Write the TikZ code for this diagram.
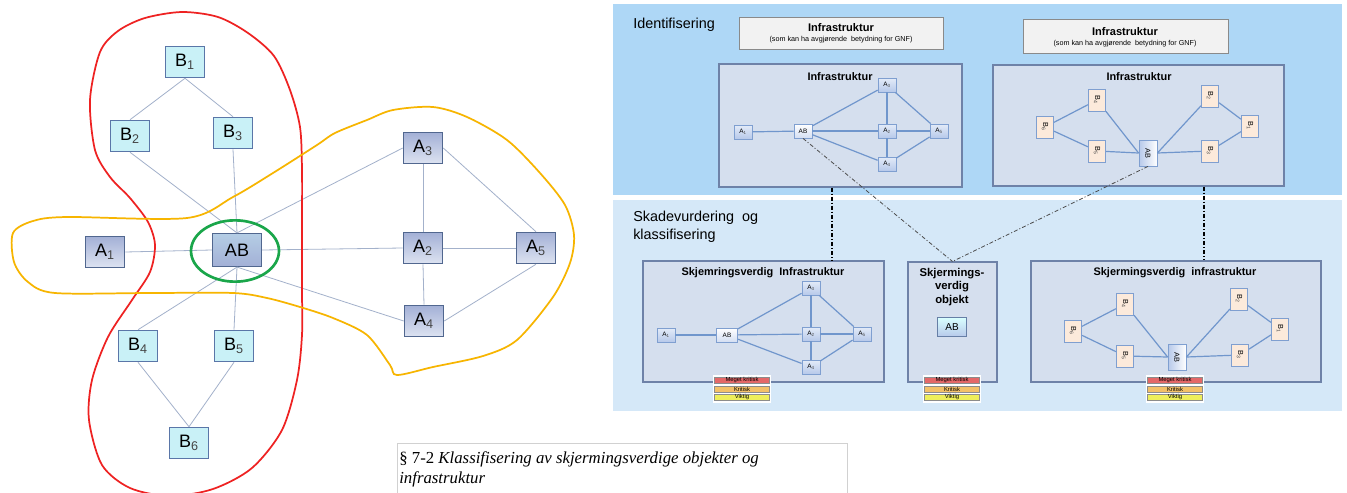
\documentclass[tikz,border=0pt]{standalone}
\usepackage{fontspec}
\usepackage{graphicx}
\setmainfont{Liberation Sans}
\newfontfamily\capserif{Liberation Serif}
\usetikzlibrary{shapes.geometric,fit}
\definecolor{bfill}{HTML}{C9F1F7}
\definecolor{bbord}{HTML}{5A76A8}
\definecolor{abord}{HTML}{51678F}
\definecolor{atop}{HTML}{A3B0D6}
\definecolor{abot}{HTML}{DDE3F1}
\definecolor{ledgec}{HTML}{A3B1CB}
\definecolor{redc}{HTML}{EE2222}
\definecolor{yelc}{HTML}{F7B500}
\definecolor{grnc}{HTML}{1AA64A}
\definecolor{topbg}{HTML}{AED7F6}
\definecolor{botbg}{HTML}{D5E8F8}
\definecolor{panelf}{HTML}{D5DFEE}
\definecolor{panelb}{HTML}{6E82A8}
\definecolor{hdrf}{HTML}{F2F2F2}
\definecolor{hdrb}{HTML}{8A8A8A}
\definecolor{sbord}{HTML}{7F9FD0}
\definecolor{stop}{HTML}{E3EBF8}
\definecolor{sbot}{HTML}{B7C9EA}
\definecolor{peach}{HTML}{FCEADB}
\definecolor{redge}{HTML}{7096CC}
\definecolor{legr}{HTML}{E46868}
\definecolor{lego}{HTML}{F3C068}
\definecolor{legy}{HTML}{EEEE5A}
\definecolor{subc}{HTML}{444444}
\newcommand{\sub}[1]{\textsubscript{\color{subc}#1}}
\newcommand{\mylegend}[3]{%
  \node[legbg] (#1bg) at (#2,389) {};
  \node[legbar, fill=legr] (#1r) at (#2,380) {Meget kritisk};
  \node[legbar, fill=lego] (#1o) at (#2,389) {Kritisk};
  \node[legbar, fill=legy] (#1y) at (#2,397) {Viktig};
}
\begin{document}
\begin{tikzpicture}[x=0.75pt,y=-0.75pt,
  lbox/.style={draw=bbord, fill=bfill, line width=0.9pt, minimum width=29.5pt, minimum height=23.5pt, inner sep=0pt, font=\fontsize{13.5}{14}\selectfont},
  abox/.style={draw=abord, line width=0.9pt, top color=atop, bottom color=abot, minimum width=29.5pt, minimum height=23.5pt, inner sep=0pt, font=\fontsize{13.5}{14}\selectfont},
  ledge/.style={draw=ledgec, line width=0.6pt},
  panel/.style={draw=panelb, fill=panelf, line width=0.8pt, inner sep=0pt},
  hdr/.style={draw=hdrb, fill=hdrf, line width=0.6pt, inner sep=0pt},
  ptitle/.style={font=\fontsize{8.2}{9}\selectfont\bfseries, inner sep=0pt},
  sbox/.style={draw=sbord, line width=0.6pt, top color=stop, bottom color=sbot, minimum width=13.5pt, minimum height=10.5pt, inner sep=0pt, font=\fontsize{4.8}{5}\selectfont},
  pbox/.style={draw=sbord, line width=0.6pt, fill=peach, minimum width=13pt, minimum height=16.5pt, inner sep=0pt, font=\fontsize{5.5}{6}\selectfont},
  abv/.style={draw=sbord, line width=0.6pt, left color=sbot, right color=white, minimum width=13.5pt, minimum height=19.5pt, inner sep=0pt, font=\fontsize{5.5}{6}\selectfont},
  rline/.style={draw=redge, line width=0.9pt},
  legbg/.style={fill=white, minimum width=44pt, minimum height=20.5pt, inner sep=0pt},
  legbar/.style={draw=black!45, line width=0.3pt, minimum width=41pt, minimum height=4.6pt, inner sep=0pt, font=\fontsize{4.4}{4.5}\selectfont},
  dashdot/.style={dash pattern=on 3pt off 1.5pt on 0.8pt off 1.5pt}
]
\useasboundingbox (0,0) rectangle (1347,493);
\fill[white] (0,0) rectangle (1347,493);

% ---------------- left graph ----------------
\node[lbox] (B1) at (185,62) {B\sub{1}};
\node[lbox] (B2) at (130,136) {B\sub{2}};
\node[lbox] (B3) at (233,133) {B\sub{3}};
\node[abox, top color=atop!55!bfill, bottom color=atop, minimum width=36.75pt, minimum height=24.75pt] (AB) at (237,250) {AB};
\node[abox] (A1) at (105,252) {A\sub{1}};
\node[lbox] (B4) at (138,346) {B\sub{4}};
\node[lbox] (B5) at (234,346) {B\sub{5}};
\node[lbox] (B6) at (189,443) {B\sub{6}};
\node[abox] (A3) at (423,148) {A\sub{3}};
\node[abox] (A2) at (423,248) {A\sub{2}};
\node[abox] (A5) at (536,248) {A\sub{5}};
\node[abox] (A4) at (424,321) {A\sub{4}};

\draw[ledge] (B1.south) -- (B2.north);
\draw[ledge] (B1.south) -- (B3.north);
\draw[ledge] (B2.south) -- (AB.north);
\draw[ledge] (B3.south) -- (AB.north);
\draw[ledge] (AB.north) -- (A3.west);
\draw[ledge] (A1.east) -- (AB.west);
\draw[ledge] (AB.east) -- (A2.west);
\draw[ledge] (AB.south) -- (A4.west);
\draw[ledge] (AB.south) -- (B4.north);
\draw[ledge] (AB.south) -- (B5.north);
\draw[ledge] (B4.south) -- (B6.north);
\draw[ledge] (B5.south) -- (B6.north);
\draw[ledge] (A3.south) -- (A2.north);
\draw[ledge] (A3.east) -- (A5.north);
\draw[ledge] (A2.east) -- (A5.west);
\draw[ledge] (A2.south) -- (A4.north);
\draw[ledge] (A4.east) -- (A5.south);

% contours
\draw[redc, line width=1.3pt] plot[smooth cycle, tension=0.5] coordinates {
 (302,230) (302,290) (302,335) (297,380) (282,430) (252,468) (213,489) (170,496) (130,488) (102,465) (89,420) (92,380) (108,337) (132,300) (150,272) (155,245) (148,222) (130,198) (110,177) (95,150) (90,100) (100,52) (118,31) (145,18) (182,12) (218,17) (248,33) (274,56) (290,90) (300,127) (302,170)};
\draw[yelc, line width=1.3pt] plot[smooth cycle, tension=0.5] coordinates {
 (13,233) (33,221) (67,217) (187,218) (233,197) (273,173) (317,145) (335,133) (367,120) (393,110) (433,107) (467,117) (507,140) (540,173) (565,205) (574,235) (570,263) (553,297) (517,340) (483,356) (433,367) (397,375) (390,365) (367,335) (333,318) (300,307) (267,298) (233,293) (150,293) (55,293) (28,282) (14,262)};
\node[draw=grnc, line width=2pt, ellipse, minimum width=66pt, minimum height=46pt, inner sep=0pt] (ring) at (235,251) {};

% ---------------- right backgrounds ----------------
\fill[topbg] (613,4) rectangle (1342,195);
\fill[botbg] (613,200) rectangle (1342,411);

\node[anchor=base west, inner sep=0pt, font=\fontsize{10.8}{12}\selectfont] (tid) at (633,28) {Identifisering};
\node[anchor=base west, inner sep=0pt, font=\fontsize{10.8}{12}\selectfont] (tsk1) at (633,221) {Skadevurdering\ \ og};
\node[anchor=base west, inner sep=0pt, font=\fontsize{10.8}{12}\selectfont] (tsk2) at (633,239) {klassifisering};

% headers
\node[hdr, fit={(739,17) (943,49)}] (H1) {};
\node[font=\fontsize{8.3}{9}\selectfont\bfseries, inner sep=0pt] (H1a) at (841,28) {Infrastruktur};
\node[font=\fontsize{5.4}{7}\selectfont, inner sep=0pt] (H1b) at (841,40) {(som kan ha avgjørende\ \ betydning for GNF)};
\node[hdr, fit={(1023,19) (1228,53)}] (H2) {};
\node[font=\fontsize{8.3}{9}\selectfont\bfseries, inner sep=0pt] (H2a) at (1125,32) {Infrastruktur};
\node[font=\fontsize{5.4}{7}\selectfont, inner sep=0pt] (H2b) at (1125,44) {(som kan ha avgjørende\ \ betydning for GNF)};

% panels
\node[panel, fit={(719,64) (962,187)}] (P1) {};
\node[panel, fit={(993,65) (1284,186)}] (P2) {};
\node[panel, fit={(643,261) (884,382)}] (P3) {};
\node[panel, fit={(908,262) (997,382)}] (P4) {};
\node[panel, fit={(1031,261) (1321,382)}] (P5) {};

\node[ptitle] (P1t) at (840,77) {Infrastruktur};
\node[ptitle] (P2t) at (1139,77) {Infrastruktur};
\node[ptitle] (P3t) at (763,273) {Skjemringsverdig\ \ Infrastruktur};
\node[ptitle, align=center, font=\fontsize{8.5}{10}\selectfont\bfseries] (P4t) at (952,287) {Skjermings-\\verdig\\objekt};
\node[ptitle] (P5t) at (1175,273) {Skjermingsverdig\ \ infrastruktur};

% panel 1 graph
\node[sbox] (pA1) at (743,132) {A\sub{1}};
\node[sbox, top color=white, bottom color=sbot!60] (pAB) at (803,131) {AB};
\node[sbox] (pA3) at (887,85) {A\sub{3}};
\node[sbox] (pA2) at (887,131) {A\sub{2}};
\node[sbox] (pA5) at (939,131) {A\sub{5}};
\node[sbox] (pA4) at (887,164) {A\sub{4}};
\draw[rline] (pA1) -- (pAB);
\draw[rline] (pAB) -- (pA3);
\draw[rline] (pAB) -- (pA2);
\draw[rline] (pAB) -- (pA4);
\draw[rline] (pA3) -- (pA2);
\draw[rline] (pA3) -- (pA5);
\draw[rline] (pA2) -- (pA5);
\draw[rline] (pA2) -- (pA4);
\draw[rline] (pA4) -- (pA5);

% panel 2 graph
\node[pbox] (qB6) at (1045,127) {\rotatebox{-90}{B\sub{6}}};
\node[pbox] (qB4) at (1097,100) {\rotatebox{-90}{B\sub{4}}};
\node[pbox] (qB5) at (1097,151) {\rotatebox{-90}{B\sub{5}}};
\node[abv] (qAB) at (1148,153) {\rotatebox{-90}{AB}};
\node[pbox] (qB2) at (1210,96) {\rotatebox{-90}{B\sub{2}}};
\node[pbox] (qB3) at (1210,151) {\rotatebox{-90}{B\sub{3}}};
\node[pbox] (qB1) at (1250,126) {\rotatebox{-90}{B\sub{1}}};
\draw[rline] (qB6) -- (qB4);
\draw[rline] (qB6) -- (qB5);
\draw[rline] (qB4) -- (qAB.west);
\draw[rline] (qB5) -- (qAB.west);
\draw[rline] (qAB.east) -- (qB2);
\draw[rline] (qAB.east) -- (qB3);
\draw[rline] (qB2) -- (qB1);
\draw[rline] (qB3) -- (qB1);

% panel 3 graph
\node[sbox] (rA1) at (666,335) {A\sub{1}};
\node[sbox, top color=white, bottom color=sbot!60, minimum width=16pt] (rAB) at (727,335) {AB};
\node[sbox] (rA3) at (811,288) {A\sub{3}};
\node[sbox] (rA2) at (811,334) {A\sub{2}};
\node[sbox] (rA5) at (862,334) {A\sub{5}};
\node[sbox] (rA4) at (811,367) {A\sub{4}};
\draw[rline] (rA1) -- (rAB);
\draw[rline] (rAB) -- (rA3);
\draw[rline] (rAB) -- (rA2);
\draw[rline] (rAB) -- (rA4);
\draw[rline] (rA3) -- (rA2);
\draw[rline] (rA3) -- (rA5);
\draw[rline] (rA2) -- (rA5);
\draw[rline] (rA2) -- (rA4);
\draw[rline] (rA4) -- (rA5);

% panel 4 object
\node[draw=sbord!80!black, line width=0.7pt, top color=white!85!cyan, bottom color=sbot, minimum width=21.75pt, minimum height=14.25pt, inner sep=0pt, font=\fontsize{7.5}{8}\selectfont] (oAB) at (952,327) {AB};

% panel 5 graph
\node[pbox] (sB6) at (1073,331) {\rotatebox{-90}{B\sub{6}}};
\node[pbox] (sB4) at (1125,304) {\rotatebox{-90}{B\sub{4}}};
\node[pbox] (sB5) at (1125,356) {\rotatebox{-90}{B\sub{5}}};
\node[abv] (sAB) at (1177,357) {\rotatebox{-90}{AB}};
\node[pbox] (sB2) at (1239,299) {\rotatebox{-90}{B\sub{2}}};
\node[pbox] (sB3) at (1240,355) {\rotatebox{-90}{B\sub{3}}};
\node[pbox] (sB1) at (1280,329) {\rotatebox{-90}{B\sub{1}}};
\draw[rline] (sB6) -- (sB4);
\draw[rline] (sB6) -- (sB5);
\draw[rline] (sB4) -- (sAB.west);
\draw[rline] (sB5) -- (sAB.west);
\draw[rline] (sAB.east) -- (sB2);
\draw[rline] (sAB.east) -- (sB3);
\draw[rline] (sB2) -- (sB1);
\draw[rline] (sB3) -- (sB1);

% legends
\mylegend{L1}{742}{}
\mylegend{L2}{952}{}
\mylegend{L3}{1175}{}

% dash-dot connectors
\coordinate (v1) at (832,0);
\coordinate (v2) at (1204,0);
\draw[dashdot, line width=1pt, black] (v1 |- P1.south) -- (v1 |- P3.north);
\draw[dashdot, line width=1pt, black] (v2 |- P2.south) -- (v2 |- P5.north);
\draw[dashdot, line width=0.6pt, black!70] (pAB.south) -- (P4.north);
\draw[dashdot, line width=0.6pt, black!70] (qAB.south) -- (P4.north);

% caption
\node[draw=black!18, line width=0.6pt, fit={(397,443) (847,493)}, inner sep=0pt] (cap) {};
\node[anchor=base west, inner sep=0pt, font=\capserif\fontsize{12.6}{14}\selectfont] (cap1) at (399,463) {§ 7-2 \textit{Klassifisering av skjermingsverdige objekter og}};
\node[anchor=base west, inner sep=0pt, font=\capserif\fontsize{12.6}{14}\selectfont\itshape] (cap2) at (399,483) {infrastruktur};
\end{tikzpicture}
\end{document}
